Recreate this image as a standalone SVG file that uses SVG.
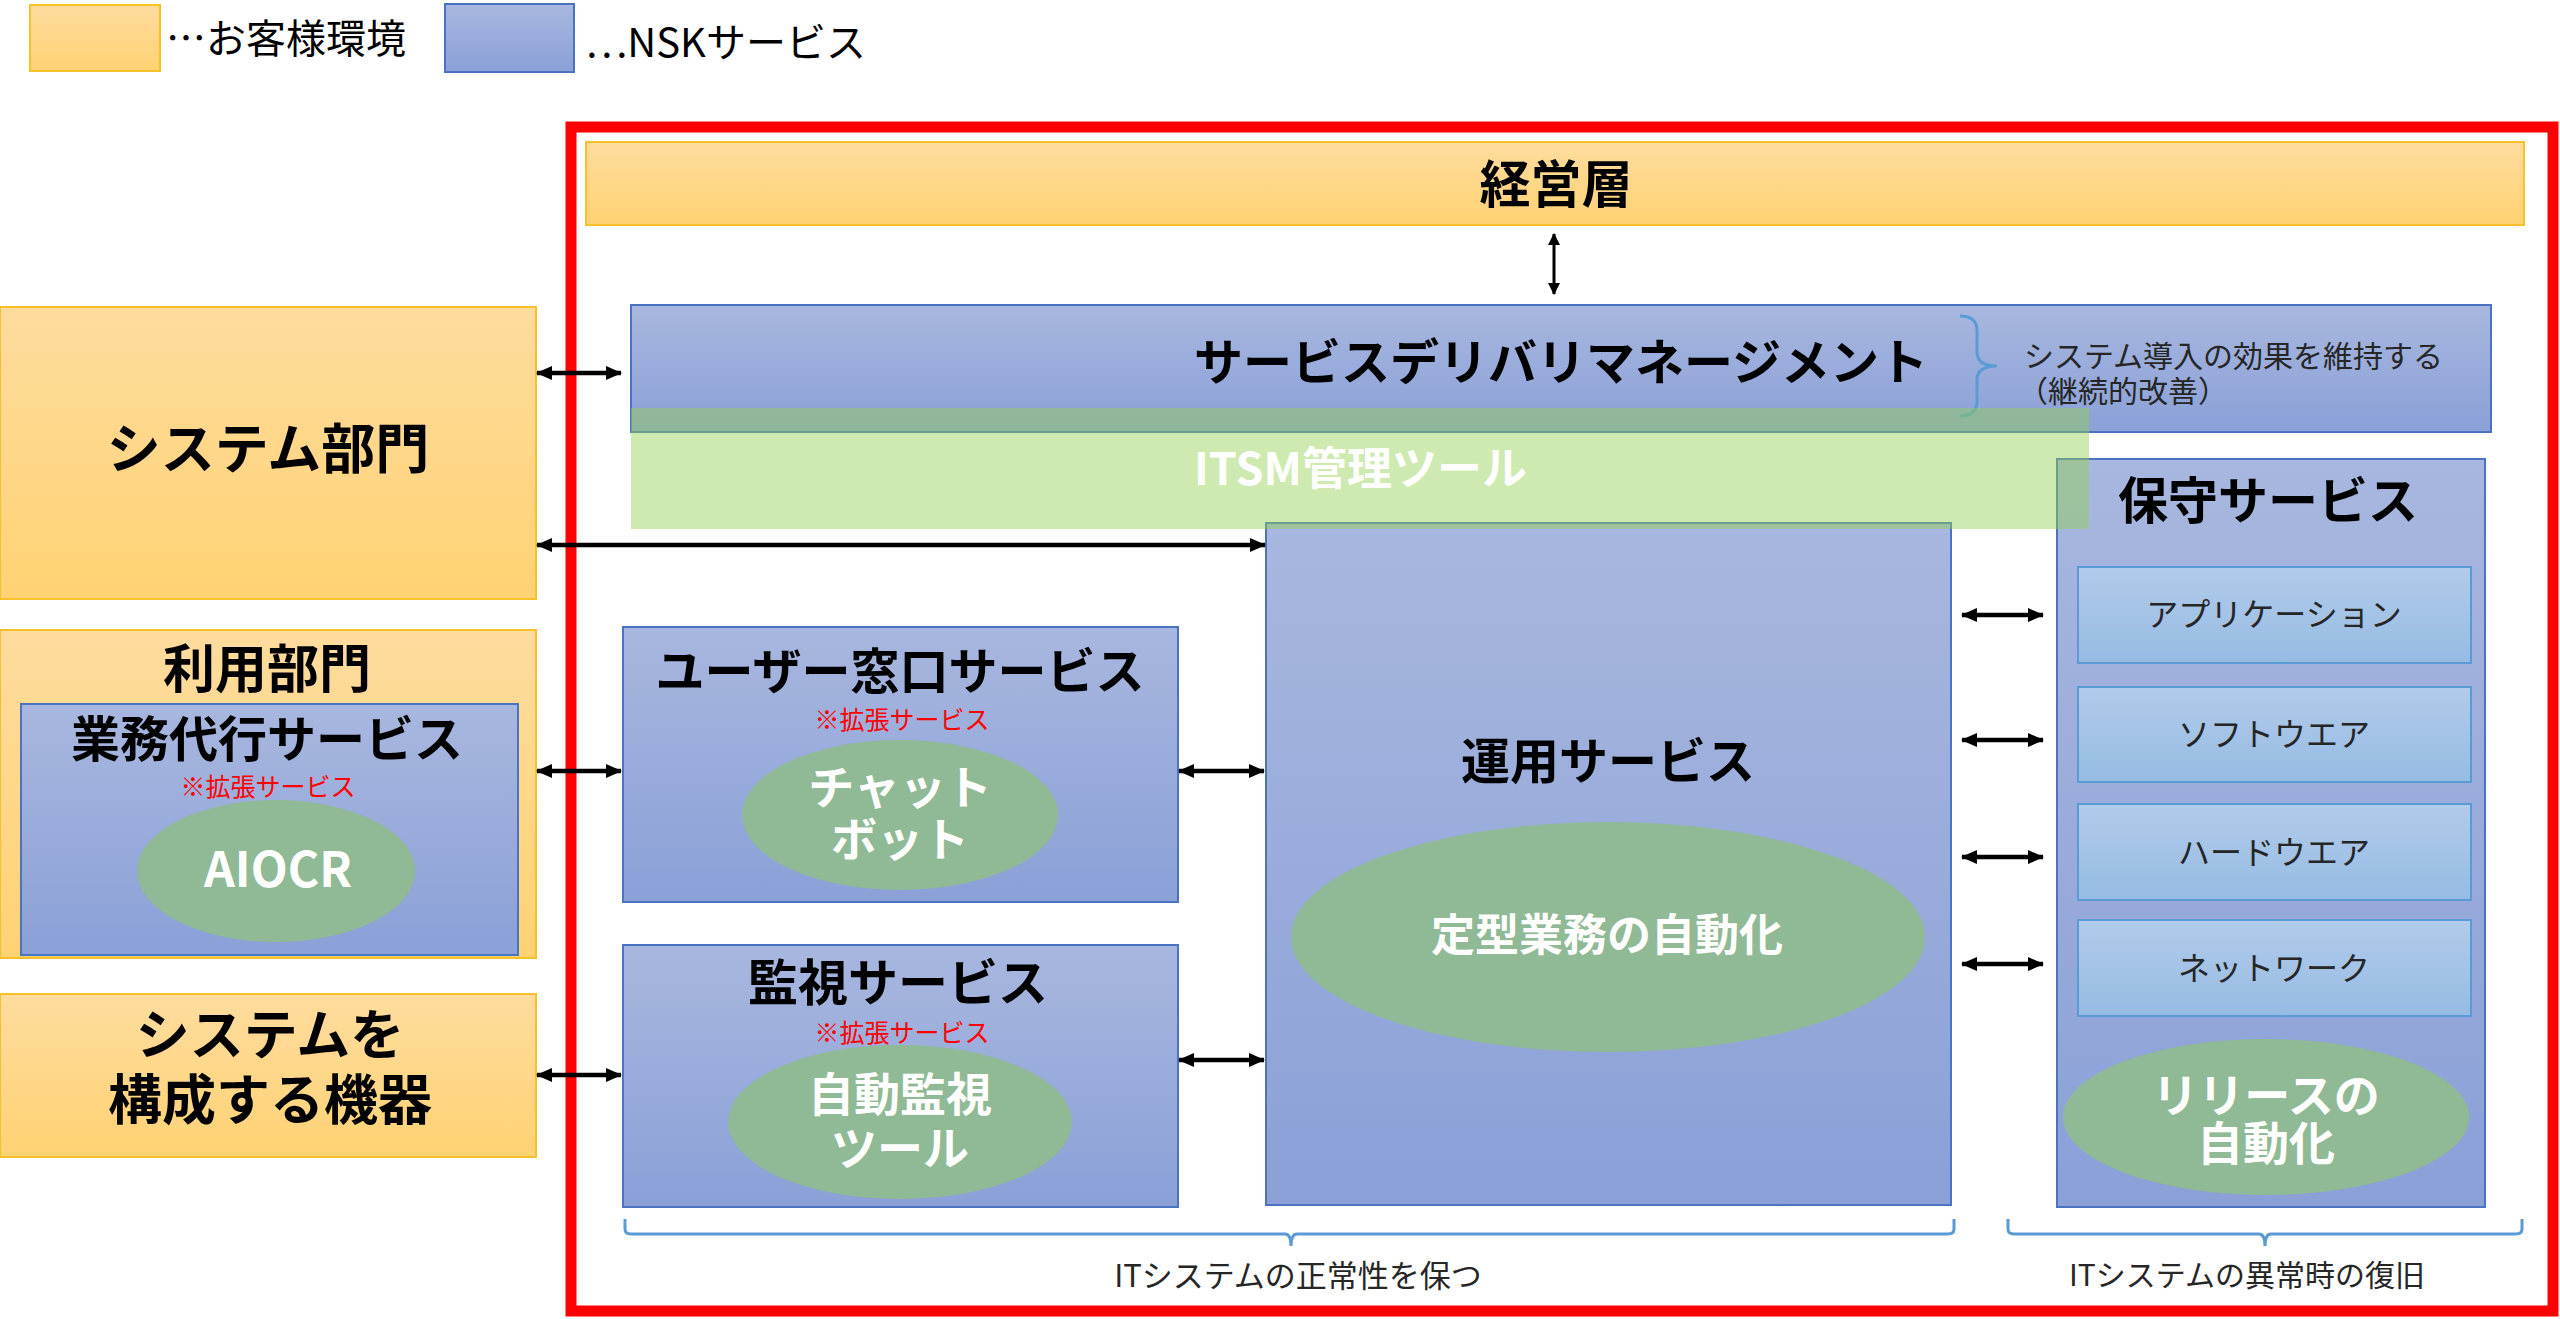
<svg xmlns="http://www.w3.org/2000/svg" width="2560" height="1319" viewBox="0 0 2560 1319">
<defs>
<linearGradient id="gOr" x1="0" y1="0" x2="0" y2="1"><stop offset="0" stop-color="#ffdc9e"/><stop offset="1" stop-color="#ffd273"/></linearGradient>
<linearGradient id="gBl" x1="0" y1="0" x2="0" y2="1"><stop offset="0" stop-color="#a8b7df"/><stop offset="1" stop-color="#8aa0d7"/></linearGradient>
<linearGradient id="gLb" x1="0" y1="0" x2="0" y2="1"><stop offset="0" stop-color="#b1cbea"/><stop offset="1" stop-color="#96bbe3"/></linearGradient>
<marker id="ah" viewBox="0 0 16 14" refX="15" refY="7" markerWidth="16" markerHeight="14" markerUnits="userSpaceOnUse" orient="auto-start-reverse"><path d="M0,0 L16,7 L0,14 z" fill="#000"/></marker>
<marker id="ahs" viewBox="0 0 12 12" refX="11" refY="6" markerWidth="12" markerHeight="12" markerUnits="userSpaceOnUse" orient="auto-start-reverse"><path d="M0,0 L12,6 L0,12 z" fill="#000"/></marker>
<style>
.or{fill:url(#gOr);stroke:#f6c12b;stroke-width:2}
.bl{fill:url(#gBl);stroke:#4a74c2;stroke-width:2}
.lb{fill:url(#gLb);stroke:#5b9bd5;stroke-width:2}
.el{fill:#90b995}
.t{font-family:"Noto Sans CJK JP","Noto Sans",sans-serif;dominant-baseline:central;text-anchor:middle}
.b{font-weight:bold;fill:#000}
.w{font-weight:bold;fill:#fff}
.n{fill:#262626}
.red{fill:#ff0000}
.con line{stroke:#000;stroke-width:4.5;marker-start:url(#ah);marker-end:url(#ah)}
.br{fill:none;stroke:#5b9bd5;stroke-width:3}
</style>
</defs>
<rect width="2560" height="1319" fill="#fff"/>

<g id="legend">
<rect class="or" x="30" y="5" width="130" height="66"/>
<text class="t" x="166" y="36" font-size="40" style="text-anchor:start" fill="#000">…お客様環境</text>
<rect class="bl" x="445" y="4" width="129" height="68"/>
<text class="t" x="585" y="40" font-size="40" style="text-anchor:start" fill="#000">…NSKサービス</text>
</g>

<rect id="frame" x="571" y="127" width="1982" height="1184" fill="none" stroke="#ff0000" stroke-width="11"/>

<g id="keiei">
<rect class="or" x="586" y="142" width="1938" height="83"/>
<text class="t b" x="1556" y="181" font-size="51">経営層</text>
</g>

<g id="sdm">
<rect class="bl" x="631" y="305" width="1860" height="127"/>
<text class="t b" x="1561" y="358" font-size="49">サービスデリバリマネージメント</text>
<path class="br" d="M1960,316 Q1977,316 1977,331 V352 Q1977,366 1997,366 Q1977,366 1977,380 V401 Q1977,416 1960,416"/>
<text class="t n" font-size="30" style="text-anchor:start"><tspan x="2024" y="354">システム導入の効果を維持する</tspan><tspan x="2018" y="389">（継続的改善）</tspan></text>
</g>

<g id="system-dept">
<rect class="or" x="0" y="307" width="536" height="292"/>
<text class="t b" x="268" y="445" font-size="54">システム部門</text>
</g>

<g id="user-dept">
<rect class="or" x="0" y="630" width="536" height="328"/>
<text class="t b" x="267" y="665" font-size="52">利用部門</text>
</g>

<g id="gyomu">
<rect class="bl" x="21" y="704" width="497" height="251"/>
<text class="t b" x="267" y="735" font-size="49">業務代行サービス</text>
<text class="t red" x="268" y="785" font-size="25">※拡張サービス</text>
<ellipse class="el" cx="276" cy="871" rx="139" ry="71"/>
<text class="t w" x="278" y="866" font-size="48">AIOCR</text>
</g>

<g id="devices">
<rect class="or" x="0" y="994" width="536" height="163"/>
<text class="t b" x="270" font-size="54"><tspan x="270" y="1031">システムを</tspan><tspan x="270" y="1096">構成する機器</tspan></text>
</g>

<g id="helpdesk">
<rect class="bl" x="623" y="627" width="555" height="275"/>
<text class="t b" x="900" y="667" font-size="49">ユーザー窓口サービス</text>
<text class="t red" x="902" y="718" font-size="25">※拡張サービス</text>
<ellipse class="el" cx="900" cy="815" rx="158" ry="75"/>
<text class="t w" font-size="46"><tspan x="900" y="784">チャット</tspan><tspan x="900" y="836">ボット</tspan></text>
</g>

<g id="monitoring">
<rect class="bl" x="623" y="945" width="555" height="262"/>
<text class="t b" x="898" y="979" font-size="50">監視サービス</text>
<text class="t red" x="902" y="1031" font-size="25">※拡張サービス</text>
<ellipse class="el" cx="900" cy="1122" rx="172" ry="77"/>
<text class="t w" font-size="46"><tspan x="900" y="1091">自動監視</tspan><tspan x="900" y="1145">ツール</tspan></text>
</g>

<g id="operation">
<rect class="bl" x="1266" y="523" width="685" height="682"/>
<text class="t b" x="1608" y="757" font-size="49">運用サービス</text>
<ellipse class="el" cx="1608" cy="937" rx="317" ry="115"/>
<text class="t w" x="1607" y="932" font-size="44">定型業務の自動化</text>
</g>

<g id="maintenance">
<rect class="bl" x="2057" y="459" width="428" height="748"/>
<text class="t b" x="2268" y="497" font-size="50">保守サービス</text>
<rect class="lb" x="2078" y="567" width="393" height="96"/>
<text class="t n" x="2274" y="612" font-size="32">アプリケーション</text>
<rect class="lb" x="2078" y="687" width="393" height="95"/>
<text class="t n" x="2274" y="732" font-size="32">ソフトウエア</text>
<rect class="lb" x="2078" y="804" width="393" height="96"/>
<text class="t n" x="2274" y="850" font-size="32">ハードウエア</text>
<rect class="lb" x="2078" y="920" width="393" height="96"/>
<text class="t n" x="2274" y="966" font-size="32">ネットワーク</text>
<ellipse class="el" cx="2266" cy="1117" rx="203" ry="78"/>
<text class="t w" font-size="46"><tspan x="2266" y="1092">リリースの</tspan><tspan x="2266" y="1140">自動化</tspan></text>
</g>

<g id="itsm">
<rect x="631" y="408" width="1458" height="121" fill="#92d050" fill-opacity="0.45"/>
<text class="t w" x="1194" y="465" font-size="45" style="text-anchor:start">ITSM管理ツール</text>
</g>

<g id="labels">
<path class="br" d="M625,1219 V1229 Q625,1234 631,1234 H1285 Q1291,1234 1291,1246 Q1291,1234 1297,1234 H1948 Q1954,1234 1954,1229 V1219"/>
<text class="t n" x="1298" y="1273" font-size="31">ITシステムの正常性を保つ</text>
<path class="br" d="M2008,1219 V1229 Q2008,1234 2014,1234 H2259 Q2265,1234 2265,1246 Q2265,1234 2271,1234 H2516 Q2522,1234 2522,1229 V1219"/>
<text class="t n" x="2247" y="1273" font-size="30">ITシステムの異常時の復旧</text>
</g>

<g id="connectors" class="con">
<line x1="537" y1="373" x2="621" y2="373"/>
<line x1="537" y1="545" x2="1265" y2="545"/>
<line x1="537" y1="771" x2="621" y2="771"/>
<line x1="537" y1="1075" x2="621" y2="1075"/>
<line x1="1179" y1="771" x2="1264" y2="771"/>
<line x1="1179" y1="1060" x2="1264" y2="1060"/>
<line x1="1962" y1="615" x2="2043" y2="615"/>
<line x1="1962" y1="740" x2="2043" y2="740"/>
<line x1="1962" y1="857" x2="2043" y2="857"/>
<line x1="1962" y1="964" x2="2043" y2="964"/>
<line x1="1554" y1="234" x2="1554" y2="294" style="stroke-width:3;marker-start:url(#ahs);marker-end:url(#ahs)"/>
</g>
</svg>
